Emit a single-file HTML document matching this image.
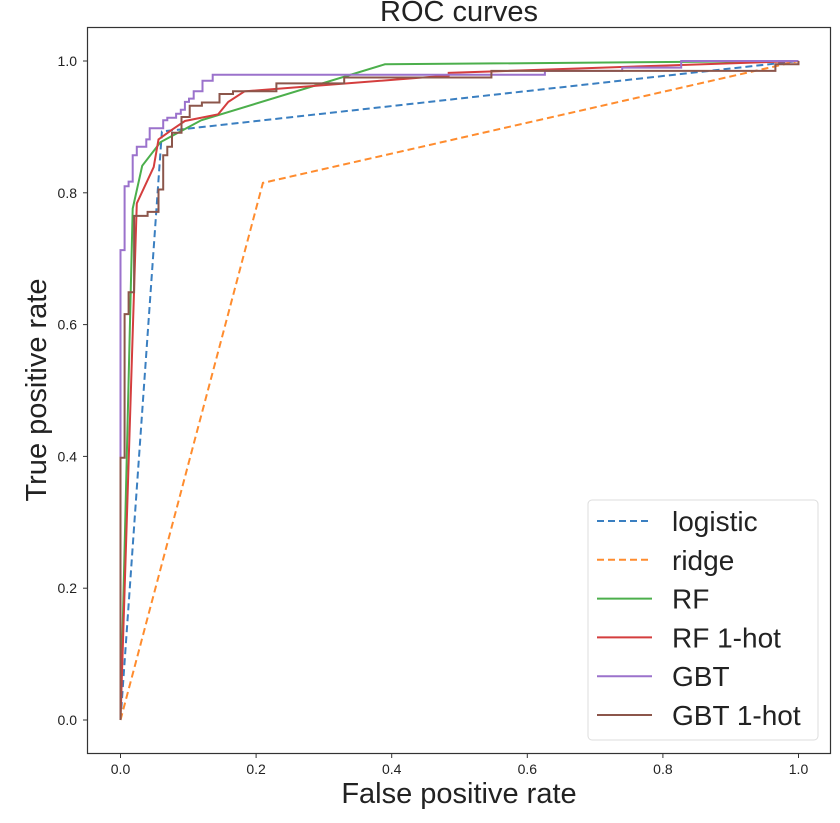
<!DOCTYPE html>
<html><head><meta charset="utf-8"><style>
body{margin:0;background:#fff;}
svg text{font-family:"Liberation Sans","DejaVu Sans",sans-serif;fill:#222;}
</style></head><body>
<svg width="840" height="818" viewBox="0 0 840 818">
<rect x="0" y="0" width="840" height="818" fill="#fff"/>
<text x="459" y="21" font-size="29" text-anchor="middle">ROC curves</text>
<g id="plot"></g>
<rect x="87.5" y="27.5" width="743" height="726" fill="none" stroke="#333" stroke-width="1.2"/>
<g id="ticks"></g>
<text x="459" y="803" font-size="29" text-anchor="middle">False positive rate</text>
<text x="0" y="0" font-size="29" text-anchor="middle" transform="translate(46,390) rotate(-90)">True positive rate</text>
<g id="legend"></g>
</svg>
<script>
const xTicks=[0,0.2,0.4,0.6,0.8,1.0];
const yTicks=[0,0.2,0.4,0.6,0.8,1.0];
const seriesNames=["logistic","ridge","RF","RF 1-hot","GBT","GBT 1-hot"];
const seriesColors=["#3a7fc1","#ff8c2e","#4caf4c","#d43e3e","#9b72cc","#8c564b"];
const logisticFpr=[0,0.061,1];
const logisticTpr=[0,0.893,1];
const ridgeFpr=[0,0.21,1];
const ridgeTpr=[0,0.815,1];
const rfFpr=[0,0.018,0.032,0.059,0.119,0.39,1];
const rfTpr=[0,0.776,0.841,0.877,0.910,0.995,1];
const rf1Fpr=[0,0.024,0.049,0.056,0.075,0.095,0.144,0.159,0.183,0.484,0.484,0.8,1];
const rf1Tpr=[0,0.784,0.839,0.881,0.895,0.909,0.919,0.938,0.954,0.978,0.982,0.993,1];
const gbtStepsFpr=[0,0.006,0.012,0.018,0.024,0.038,0.043,0.063,0.069,0.082,0.089,0.095,0.101,0.108,0.121,0.136,0.626,0.74,0.827,0.94,1];
const gbtStepsTpr=[0.713,0.81,0.817,0.857,0.87,0.881,0.898,0.91,0.914,0.92,0.926,0.938,0.943,0.954,0.97,0.979,0.985,0.99,1,1,1];
const gbt1StepsFpr=[0,0.006,0.012,0.02,0.04,0.056,0.063,0.069,0.076,0.09,0.102,0.12,0.146,0.166,0.23,0.33,0.547,0.966,1];
const gbt1StepsTpr=[0.398,0.616,0.649,0.765,0.771,0.805,0.857,0.87,0.891,0.915,0.932,0.937,0.95,0.954,0.966,0.975,0.985,0.995,1];
const X0=120.5,XW=678,Y0=720,YH=659;
function sx(v){return X0+XW*v;}
function sy(v){return Y0-YH*v;}
const NS="http://www.w3.org/2000/svg";
function mk(t,a){const e=document.createElementNS(NS,t);for(const k in a)e.setAttribute(k,a[k]);return e;}
function stepPts(fx,ty){const p=[[0,0]];let y=0;for(let i=0;i<fx.length;i++){p.push([fx[i],y]);p.push([fx[i],ty[i]]);y=ty[i];}p.push([1,1]);return p;}
function linePts(fx,ty){return fx.map((f,i)=>[f,ty[i]]);}
const plot=document.getElementById('plot');
const allPts=[linePts(logisticFpr,logisticTpr),linePts(ridgeFpr,ridgeTpr),linePts(rfFpr,rfTpr),linePts(rf1Fpr,rf1Tpr),stepPts(gbtStepsFpr,gbtStepsTpr),stepPts(gbt1StepsFpr,gbt1StepsTpr)];
const slugs=["logistic","ridge","rf","rf-1hot","gbt","gbt-1hot"];
allPts.forEach((pts,i)=>{
  const d=pts.map((p,j)=>(j?'L':'M')+sx(p[0]).toFixed(1)+' '+sy(p[1]).toFixed(1)).join(' ');
  const el=mk('path',{d:d,fill:'none',stroke:seriesColors[i],'stroke-width':2,'stroke-linejoin':'miter'});
  if(i<2)el.setAttribute('stroke-dasharray','7,4');
  
  
  plot.appendChild(el);
});
const tg=document.getElementById('ticks');
xTicks.forEach(v=>{
  const l=mk('line',{x1:sx(v),x2:sx(v),y1:753.5,y2:758,stroke:'#333'});
  
  
  tg.appendChild(l);
  const t=mk('text',{x:sx(v),y:774,'font-size':14,'text-anchor':'middle'});
  t.textContent=v.toFixed(1);
  
  
  tg.appendChild(t);
});
yTicks.forEach(v=>{
  const l=mk('line',{x1:83,x2:87.5,y1:sy(v),y2:sy(v),stroke:'#333'});
  
  
  tg.appendChild(l);
  const t=mk('text',{x:77,y:sy(v)+5,'font-size':14,'text-anchor':'end'});
  t.textContent=v.toFixed(1);
  
  
  tg.appendChild(t);
});
const lg=document.getElementById('legend');
const box=mk('rect',{x:588,y:500,width:230,height:240,rx:4,fill:'#fff','fill-opacity':0.85,stroke:'#ddd'});


lg.appendChild(box);
seriesNames.forEach((n,i)=>{
  const y=521+i*38.8;
  const l=mk('line',{x1:597,x2:652,y1:y,y2:y,stroke:seriesColors[i],'stroke-width':2});
  if(i<2)l.setAttribute('stroke-dasharray','7,4');
  
  
  lg.appendChild(l);
  const t=mk('text',{x:672,y:y+10,'font-size':28});
  t.textContent=n;
  
  
  lg.appendChild(t);
});
</script>
</body></html>
